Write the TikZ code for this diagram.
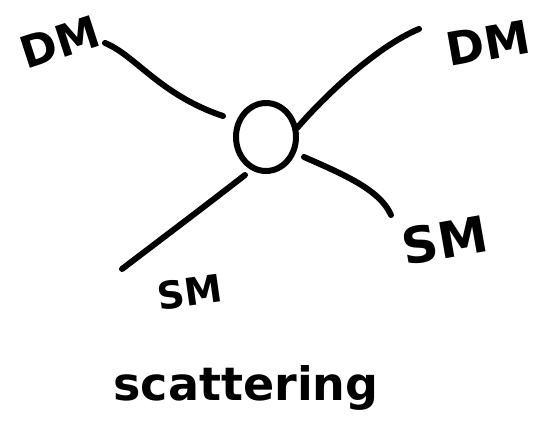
\documentclass[tikz,border=0pt]{standalone}
\usepackage{fontspec}
\usetikzlibrary{shapes.geometric}
\setmainfont{DejaVu Sans}
\begin{document}
\begin{tikzpicture}[x=1pt,y=-1pt,
  ink/.style={line width=6pt,line cap=round,line join=round,black},
  lbl/.style={inner sep=0pt,font=\bfseries}]
\useasboundingbox[fill=white] (0,0) rectangle (545,421);
\node[ink,draw,ellipse,minimum width=60pt,minimum height=68pt,inner sep=0pt] (c) at (266,137) {};
\node[lbl,font=\bfseries\fontsize{44}{44}\selectfont,rotate=18] (dml) at (60,42) {DM};
\node[lbl,font=\bfseries\fontsize{46}{46}\selectfont,rotate=10] (dmr) at (488,43) {DM};
\node[lbl,font=\bfseries\fontsize{38}{38}\selectfont,rotate=8] (sml) at (190,292) {SM};
\node[lbl,font=\bfseries\fontsize{50}{50}\selectfont,rotate=10] (smr) at (445,240) {SM};
\node[lbl,font=\bfseries\fontsize{46}{46}\selectfont] (sc) at (246,388) {scattering};
\coordinate (a1) at (105,43);
\coordinate (a2) at (223,116);
\coordinate (b1) at (297,128);
\coordinate (b2) at (419,29);
\coordinate (d1) at (245,175);
\coordinate (d2) at (122,269);
\coordinate (e1) at (304,157);
\coordinate (e2) at (391,215);
\draw[ink] (a1) .. controls (135,55) and (160,95) .. (a2);
\draw[ink] (b1) .. controls (330,90) and (380,45) .. (b2);
\draw[ink] (d1) .. controls (200,210) and (160,240) .. (d2);
\draw[ink] (e1) .. controls (345,175) and (380,190) .. (e2);
\end{tikzpicture}
\end{document}
